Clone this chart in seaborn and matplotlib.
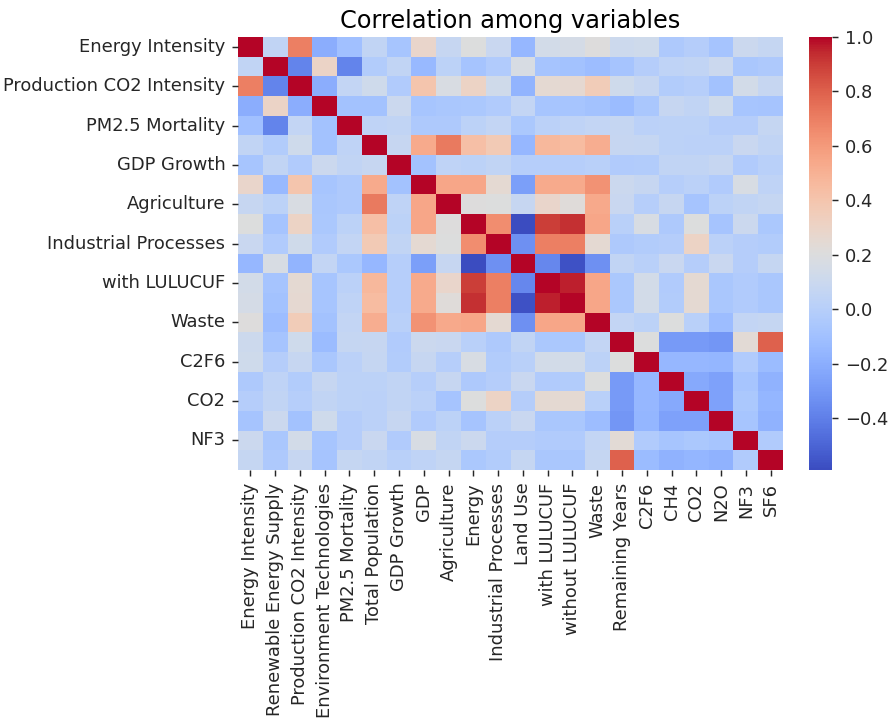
import numpy as np
import pandas as pd
import matplotlib
matplotlib.use("Agg")
import matplotlib.pyplot as plt
import seaborn as sns

variables = ["Energy Intensity", "Renewable Energy Supply", "Production CO2 Intensity",
             "Environment Technologies", "PM2.5 Mortality", "Total Population", "GDP Growth",
             "GDP", "Agriculture", "Energy", "Industrial Processes", "Land Use",
             "with LULUCUF", "without LULUCUF", "Waste", "Remaining Years", "C2F6", "CH4",
             "CO2", "N2O", "NF3", "SF6"]

# upper-triangle correlations (values for columns to the right of the diagonal)
u_energy_intensity = [0.05, 0.70, -0.20, -0.10, 0.05, -0.07, 0.28, 0.08, 0.20, 0.09, -0.15, 0.14, 0.15, 0.21, 0.11, 0.12, -0.04, -0.01, -0.08, 0.10, 0.07]
u_renewable = [-0.38, 0.30, -0.38, -0.02, 0.05, -0.14, 0.03, -0.08, -0.03, 0.17, -0.08, -0.09, -0.12, -0.08, -0.01, 0.04, 0.05, 0.10, -0.06, -0.04]
u_prod_co2 = [-0.20, 0.06, 0.12, -0.03, 0.40, 0.18, 0.31, 0.13, -0.17, 0.25, 0.26, 0.36, 0.12, 0.08, -0.02, 0.00, -0.09, 0.14, 0.08]
u_env_tech = [-0.09, -0.09, 0.10, -0.07, -0.06, -0.05, -0.03, 0.06, -0.07, -0.07, -0.09, -0.13, -0.06, 0.08, 0.05, 0.12, -0.07, -0.08]
u_pm25 = [0.04, 0.05, -0.04, -0.04, 0.03, 0.06, -0.05, 0.02, 0.04, 0.06, 0.07, 0.02, 0.03, 0.03, -0.01, -0.01, 0.07]
u_population = [0.08, 0.53, 0.72, 0.43, 0.37, -0.15, 0.47, 0.45, 0.52, 0.08, 0.07, 0.03, 0.02, 0.02, 0.09, 0.05]
u_gdp_growth = [-0.09, 0.04, 0.03, 0.05, 0.00, 0.00, 0.00, 0.01, -0.03, -0.02, 0.05, 0.05, 0.08, -0.03, 0.01]
u_gdp = [0.55, 0.55, 0.25, -0.27, 0.53, 0.53, 0.63, 0.10, 0.08, 0.00, 0.02, -0.03, 0.17, 0.04]
u_agriculture = [0.21, 0.20, 0.08, 0.28, 0.22, 0.54, 0.09, 0.00, 0.08, -0.08, 0.03, 0.05, 0.07]
u_energy = [0.65, -0.59, 0.90, 0.93, 0.55, 0.01, 0.17, -0.04, 0.20, -0.08, 0.10, -0.05]
u_industrial = [-0.33, 0.70, 0.70, 0.25, -0.04, -0.02, -0.01, 0.31, 0.02, -0.01, -0.02]
u_land_use = [-0.37, -0.57, -0.33, 0.05, 0.01, 0.09, -0.01, 0.09, -0.01, 0.07]
u_with_lulucuf = [0.96, 0.55, -0.05, 0.14, -0.03, 0.25, -0.06, -0.03, -0.06]
u_without_lulucuf = [0.55, -0.05, 0.14, -0.02, 0.25, -0.06, -0.03, -0.06]
u_waste = [0.06, 0.03, 0.20, 0.01, -0.12, 0.06, 0.07]
u_remaining = [0.20, -0.29, -0.29, -0.31, 0.24, 0.80]
u_c2f6 = [-0.15, -0.15, -0.16, -0.03, -0.13]
u_ch4 = [-0.22, -0.26, -0.07, -0.18]
u_co2 = [-0.26, -0.05, -0.16]
u_n2o = [-0.07, -0.18]
u_nf3 = [-0.03]
u_sf6 = []

upper_rows = [u_energy_intensity, u_renewable, u_prod_co2, u_env_tech, u_pm25, u_population,
              u_gdp_growth, u_gdp, u_agriculture, u_energy, u_industrial, u_land_use,
              u_with_lulucuf, u_without_lulucuf, u_waste, u_remaining, u_c2f6, u_ch4,
              u_co2, u_n2o, u_nf3, u_sf6]

n = len(variables)
mat = np.eye(n)
for i, row in enumerate(upper_rows):
    for k, v in enumerate(row):
        j = i + 1 + k
        mat[i, j] = v
        mat[j, i] = v
corr = pd.DataFrame(mat, index=variables, columns=variables)

dpi = 131
fig = plt.figure(figsize=(892 / dpi, 725 / dpi), dpi=dpi)
ax = fig.add_axes([238 / 892, 1 - 470 / 725, 545 / 892, 433 / 725])
cax = fig.add_axes([809 / 892, 1 - 470 / 725, 23 / 892, 433 / 725])

sns.heatmap(corr, cmap="coolwarm", ax=ax, cbar_ax=cax,
            xticklabels=variables, yticklabels=2)
ax.set_title("Correlation among variables", fontsize=13.2, pad=5)
ax.tick_params(axis="both", labelsize=9.8, colors="#262626", labelcolor="#262626")
cax.tick_params(labelsize=9.8, colors="#262626", labelcolor="#262626")

fig.savefig("out.png", dpi=dpi)
